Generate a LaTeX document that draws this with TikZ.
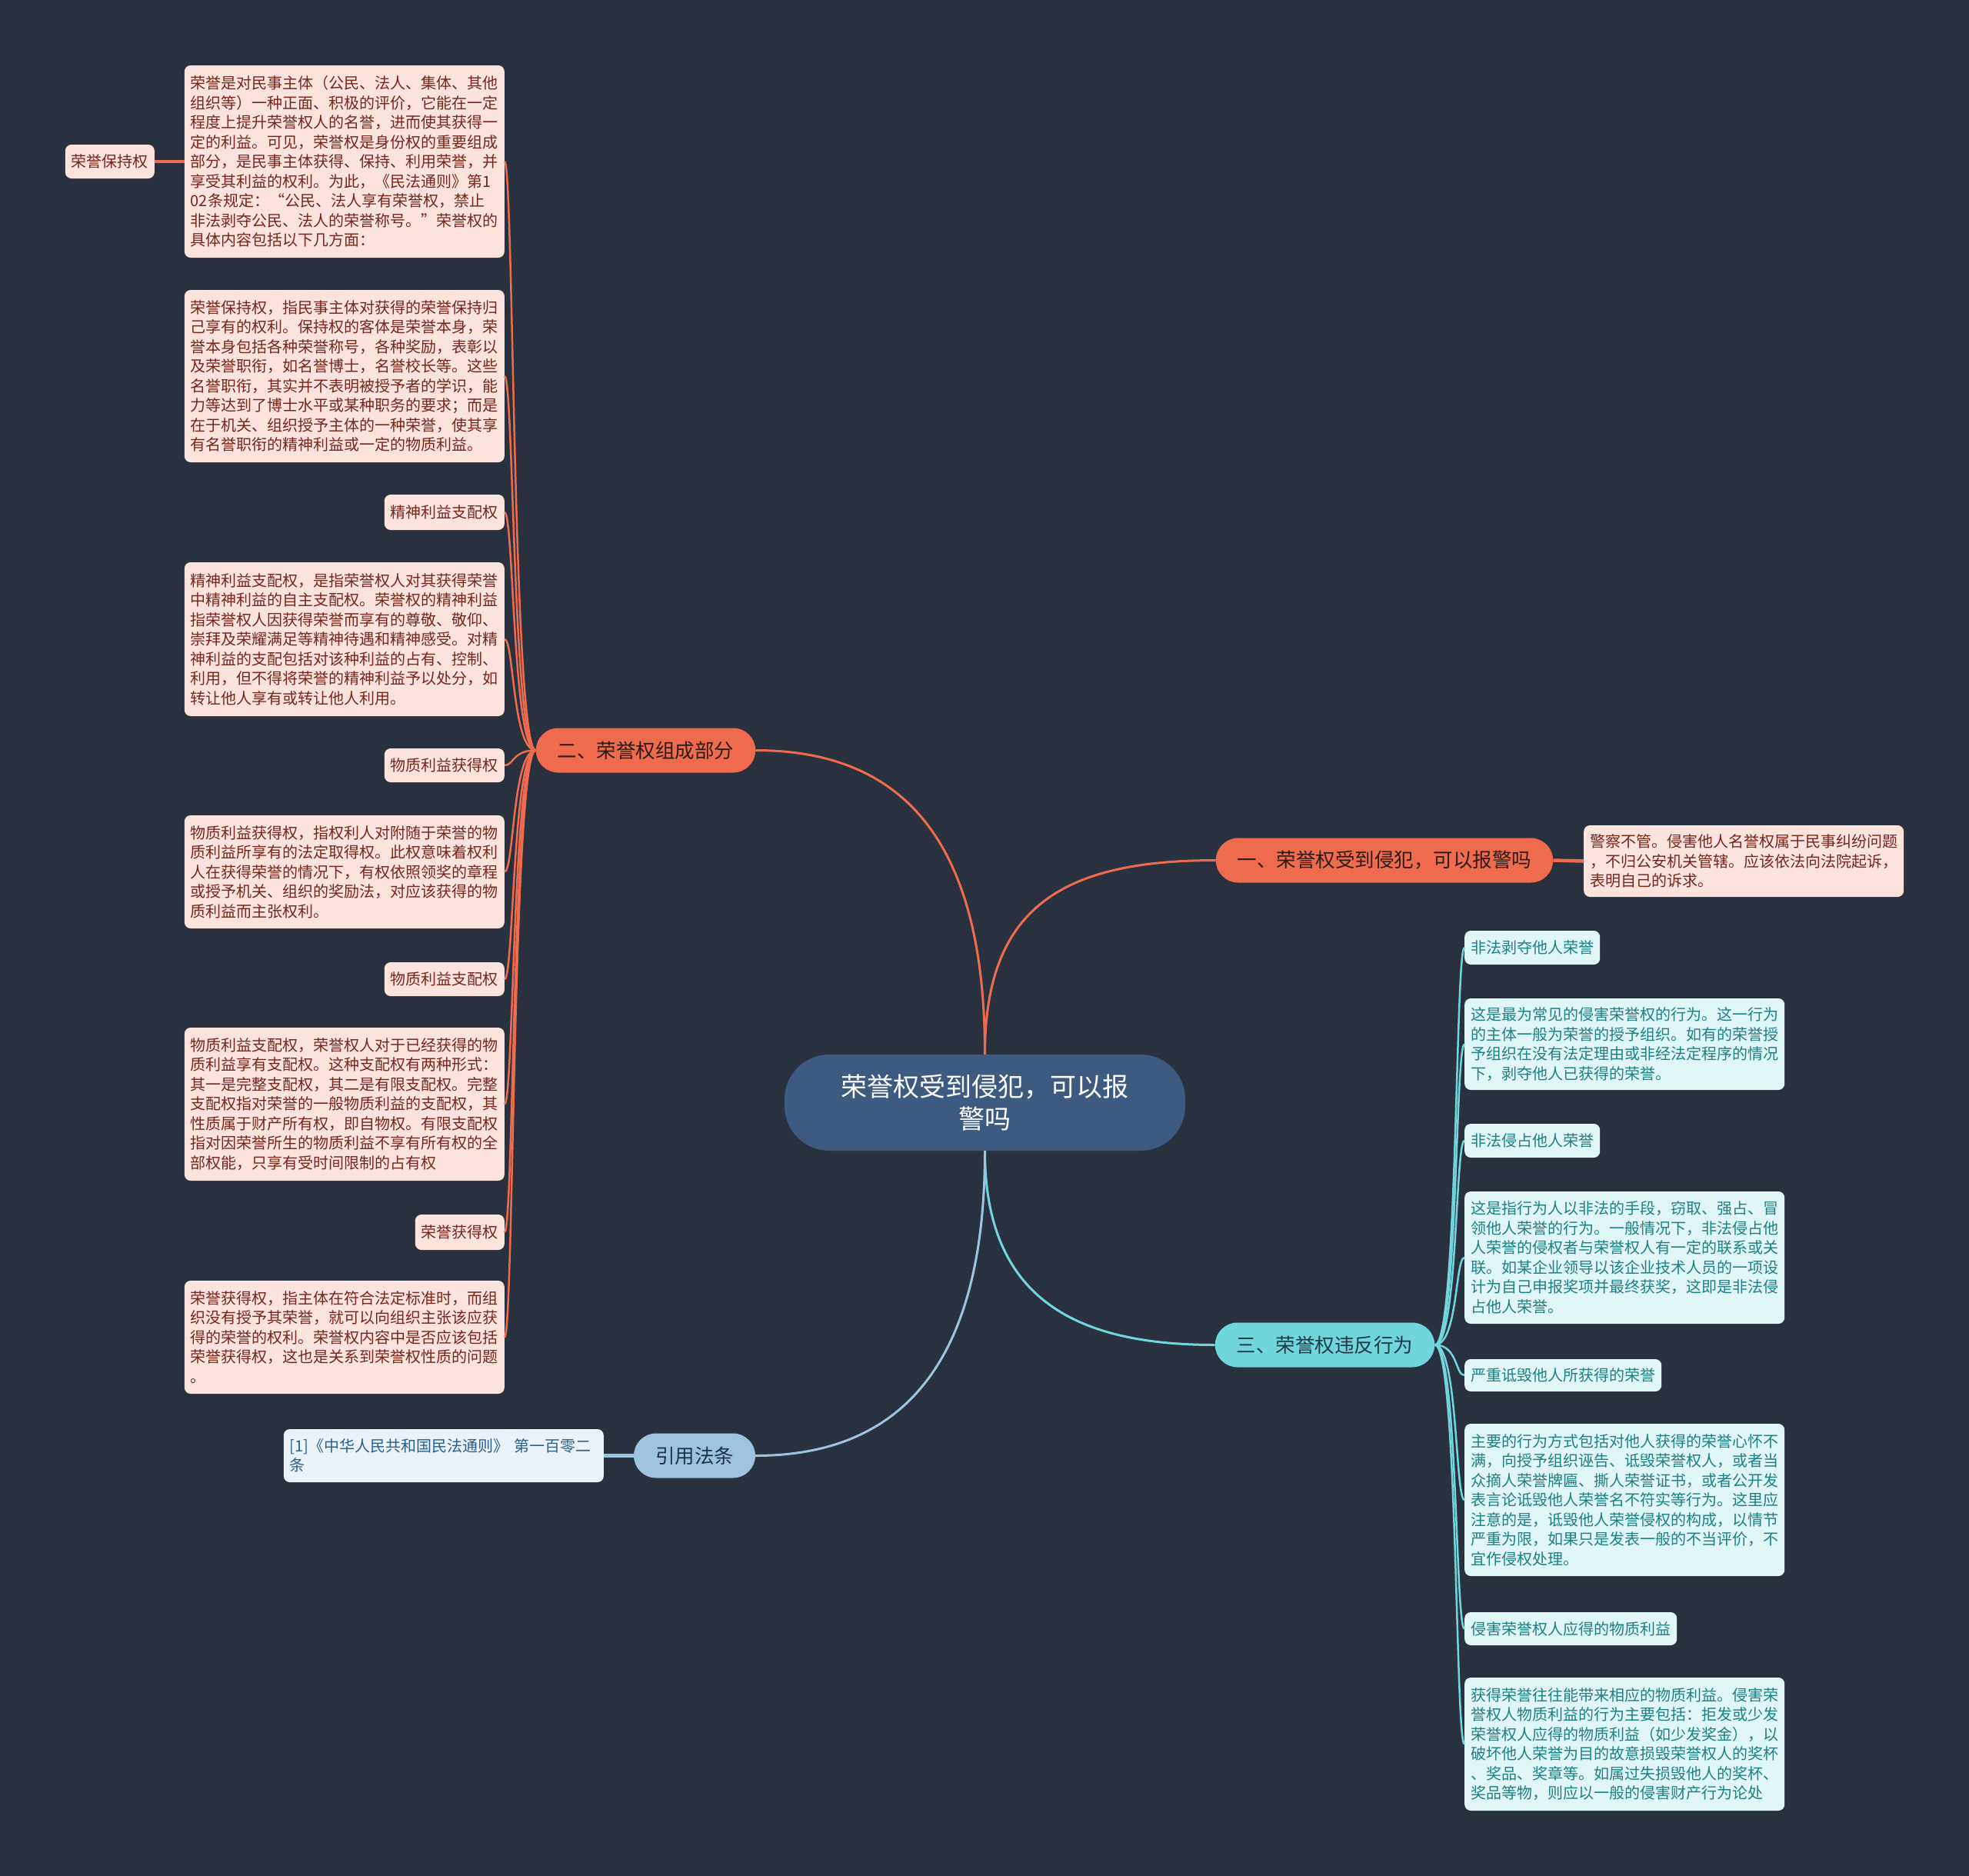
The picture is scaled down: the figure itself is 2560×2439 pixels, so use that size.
\documentclass[tikz,border=0pt]{standalone}
\usepackage{fontspec}
\setmainfont{Noto Sans CJK SC}
\definecolor{bgc}{HTML}{29313F}
\definecolor{rootfill}{HTML}{3D5A80}
\definecolor{corange}{HTML}{EE6C4D}
\definecolor{ccyan}{HTML}{70D6DC}
\definecolor{cblue}{HTML}{9EC4DD}
\definecolor{pinkfill}{HTML}{FDE3DD}
\definecolor{pinktext}{HTML}{76271A}
\definecolor{cyanfill}{HTML}{E0F6F7}
\definecolor{cyantext}{HTML}{1E8082}
\definecolor{bluefill}{HTML}{EAF3F9}
\definecolor{bluetext}{HTML}{2B5F8A}
\definecolor{otext}{HTML}{2E1A14}
\definecolor{ctext}{HTML}{1E3A44}
\definecolor{btext}{HTML}{1F3245}
\tikzset{
  leafbase/.style={rounded corners=8pt, inner xsep=8pt, inner ysep=4pt,
    font=\fontsize{20}{25.5}\selectfont, align=left},
  leafL/.style={leafbase, fill=pinkfill, text=pinktext, anchor=east},
  leafLw/.style={leafL, text width=400pt},
  leafR/.style={leafbase, fill=cyanfill, text=cyantext, anchor=west},
  leafRw/.style={leafR, text width=400pt},
  branchbox/.style={rounded corners=29pt, inner xsep=28pt, inner ysep=0pt,
    minimum height=58pt, font=\fontsize{25.5}{30}\selectfont},
  rootbox/.style={rounded corners=58pt, fill=rootfill, text=white,
    minimum width=521pt, minimum height=125pt, align=center,
    font=\fontsize{34}{42}\selectfont},
  bigcon/.style={line width=3pt},
  smallcon/.style={line width=2.5pt},
  barcon/.style={line width=4.5pt}
}
\begin{document}
\begin{tikzpicture}[x=1pt,y=-1pt]
\fill[bgc] (0,0) rectangle (2560,2439);
\useasboundingbox (0,0) rectangle (2560,2439);

% root
\node[rootbox] (root) at (1280.5,1433.5) {荣誉权受到侵犯，可以报\\警吗};

% branches
\node[branchbox, fill=corange, text=otext] (b1) at (1800,1118.5) {一、荣誉权受到侵犯，可以报警吗};
\node[branchbox, fill=corange, text=otext] (b2) at (839.5,975.5) {二、荣誉权组成部分};
\node[branchbox, fill=ccyan, text=ctext] (b3) at (1722.5,1748.5) {三、荣誉权违反行为};
\node[branchbox, fill=cblue, text=btext] (b4) at (903,1892.5) {引用法条};

% branch 1 leaf
\node[leafLw, anchor=west, minimum height=93pt] (p1) at (2059,1119.5) {警察不管。侵害他人名誉权属于民事纠纷问题\\
，不归公安机关管辖。应该依法向法院起诉，\\
表明自己的诉求。};

% branch 4 leaf
\node[leafbase, fill=bluefill, text=bluetext, text width=400pt, anchor=east, minimum height=69pt] (cit) at (785,1892.5) {\mbox{[1]《中华人民共和国民法通则》 第一百零二}\\
条};

% branch 2 leaves
\node[leafL, minimum height=44pt] (a0) at (201,210) {荣誉保持权};
\node[leafLw, minimum height=250pt] (nA) at (656,210) {荣誉是对民事主体（公民、法人、集体、其他\\
组织等）一种正面、积极的评价，它能在一定\\
程度上提升荣誉权人的名誉，进而使其获得一\\
定的利益。可见，荣誉权是身份权的重要组成\\
部分，是民事主体获得、保持、利用荣誉，并\\
享受其利益的权利。为此，《民法通则》第1\\
02条规定：“公民、法人享有荣誉权，禁止\\
非法剥夺公民、法人的荣誉称号。”荣誉权的\\
具体内容包括以下几方面：};
\node[leafLw, minimum height=224pt] (nB) at (656,489) {荣誉保持权，指民事主体对获得的荣誉保持归\\
己享有的权利。保持权的客体是荣誉本身，荣\\
誉本身包括各种荣誉称号，各种奖励，表彰以\\
及荣誉职衔，如名誉博士，名誉校长等。这些\\
名誉职衔，其实并不表明被授予者的学识，能\\
力等达到了博士水平或某种职务的要求；而是\\
在于机关、组织授予主体的一种荣誉，使其享\\
有名誉职衔的精神利益或一定的物质利益。};
\node[leafL, minimum height=46pt] (nC) at (656,666) {精神利益支配权};
\node[leafLw, minimum height=200pt] (nD) at (656,831) {精神利益支配权，是指荣誉权人对其获得荣誉\\
中精神利益的自主支配权。荣誉权的精神利益\\
指荣誉权人因获得荣誉而享有的尊敬、敬仰、\\
崇拜及荣耀满足等精神待遇和精神感受。对精\\
神利益的支配包括对该种利益的占有、控制、\\
利用，但不得将荣誉的精神利益予以处分，如\\
转让他人享有或转让他人利用。};
\node[leafL, minimum height=44pt] (nE) at (656,995) {物质利益获得权};
\node[leafLw, minimum height=147pt] (nF) at (656,1133.5) {物质利益获得权，指权利人对附随于荣誉的物\\
质利益所享有的法定取得权。此权意味着权利\\
人在获得荣誉的情况下，有权依照领奖的章程\\
或授予机关、组织的奖励法，对应该获得的物\\
质利益而主张权利。};
\node[leafL, minimum height=44pt] (nG) at (656,1273) {物质利益支配权};
\node[leafLw, minimum height=199pt] (nH) at (656,1435.5) {物质利益支配权，荣誉权人对于已经获得的物\\
质利益享有支配权。这种支配权有两种形式：\\
其一是完整支配权，其二是有限支配权。完整\\
支配权指对荣誉的一般物质利益的支配权，其\\
性质属于财产所有权，即自物权。有限支配权\\
指对因荣誉所生的物质利益不享有所有权的全\\
部权能，只享有受时间限制的占有权};
\node[leafL, minimum height=46pt] (nI) at (656,1602) {荣誉获得权};
\node[leafLw, minimum height=147pt] (nJ) at (656,1738.5) {荣誉获得权，指主体在符合法定标准时，而组\\
织没有授予其荣誉，就可以向组织主张该应获\\
得的荣誉的权利。荣誉权内容中是否应该包括\\
荣誉获得权，这也是关系到荣誉权性质的问题\\
。};

% branch 3 leaves
\node[leafR, minimum height=44pt] (nK) at (1904,1232) {非法剥夺他人荣誉};
\node[leafRw, minimum height=119pt] (nL) at (1904,1357.5) {这是最为常见的侵害荣誉权的行为。这一行为\\
的主体一般为荣誉的授予组织。如有的荣誉授\\
予组织在没有法定理由或非经法定程序的情况\\
下，剥夺他人已获得的荣誉。};
\node[leafR, minimum height=44pt] (nM) at (1904,1483) {非法侵占他人荣誉};
\node[leafRw, minimum height=172pt] (nN) at (1904,1635) {这是指行为人以非法的手段，窃取、强占、冒\\
领他人荣誉的行为。一般情况下，非法侵占他\\
人荣誉的侵权者与荣誉权人有一定的联系或关\\
联。如某企业领导以该企业技术人员的一项设\\
计为自己申报奖项并最终获奖，这即是非法侵\\
占他人荣誉。};
\node[leafR, minimum height=42pt] (nO) at (1904,1788) {严重诋毁他人所获得的荣誉};
\node[leafRw, minimum height=198pt] (nP) at (1904,1950) {主要的行为方式包括对他人获得的荣誉心怀不\\
满，向授予组织诬告、诋毁荣誉权人，或者当\\
众摘人荣誉牌匾、撕人荣誉证书，或者公开发\\
表言论诋毁他人荣誉名不符实等行为。这里应\\
注意的是，诋毁他人荣誉侵权的构成，以情节\\
严重为限，如果只是发表一般的不当评价，不\\
宜作侵权处理。};
\node[leafR, minimum height=43pt] (nQ) at (1904,2117.5) {侵害荣誉权人应得的物质利益};
\node[leafRw, minimum height=173pt] (nR) at (1904,2267.5) {获得荣誉往往能带来相应的物质利益。侵害荣\\
誉权人物质利益的行为主要包括：拒发或少发\\
荣誉权人应得的物质利益（如少发奖金），以\\
破坏他人荣誉为目的故意损毁荣誉权人的奖杯\\
、奖品、奖章等。如属过失损毁他人的奖杯、\\
奖品等物，则应以一般的侵害财产行为论处};

% connectors root -> branches
\draw[bigcon, corange] (root.north) .. controls +(0,-271) and +(197,0) .. (b2.east);
\draw[bigcon, corange] (root.north) .. controls +(0,-191) and +(-200,0) .. (b1.west);
\draw[bigcon, ccyan] (root.south) .. controls +(0,194) and +(-179,0) .. (b3.west);
\draw[bigcon, cblue] (root.south) .. controls +(0,304) and +(167,0) .. (b4.east);

% short bars
\draw[barcon, corange] (b1.east) -- (p1.west);
\draw[barcon, cblue] (b4.west) -- (cit.east);
\draw[barcon, corange] (a0.east) -- (nA.west);

% branch 2 children
\foreach \c in {nA,nB,nC,nD,nE,nF,nG,nH,nI,nJ}
  \draw[smallcon, corange] (b2.west) .. controls +(-30,0) and +(12,0) .. (\c.east);
% branch 3 children
\foreach \c in {nK,nL,nM,nN,nO,nP,nQ,nR}
  \draw[smallcon, ccyan] (b3.east) .. controls +(30,0) and +(-12,0) .. (\c.west);
\end{tikzpicture}
\end{document}
